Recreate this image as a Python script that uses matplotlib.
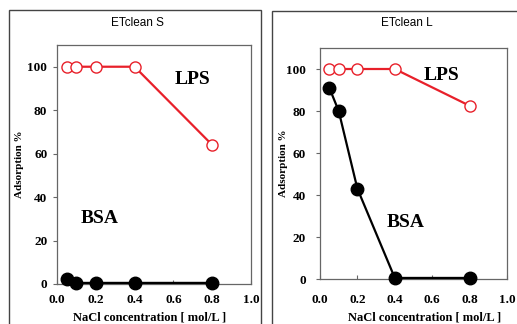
import matplotlib
matplotlib.use("Agg")
import matplotlib.pyplot as plt
from matplotlib.patches import Rectangle

# NaCl concentration (mol/L)
nacl = [0.05, 0.1, 0.2, 0.4, 0.8]

# adsorption %
lps_s = [100, 100, 100, 100, 64]
bsa_s = [2.5, 0.5, 0.5, 0.5, 0.5]
lps_l = [100, 100, 100, 100, 82.5]
bsa_l = [91, 80, 43, 0.5, 0.5]

panel_titles = ["ETclean S", "ETclean L"]
x_ticks = [0.0, 0.2, 0.4, 0.6, 0.8, 1.0]
y_ticks = [0, 20, 40, 60, 80, 100]

W, H = 517, 324
serif = "Liberation Serif"
col_lps = "#e8202a"


def px_rect(l, t, r, b):
	return (l / W, (H - b) / H, (r - l) / W, (b - t) / H)


fig = plt.figure(figsize=(W / 100, H / 100), dpi=100)
fig.patch.set_facecolor("white")

# outer boxes round each panel
for l, t, r, b in [(9, 10, 261, 340), (272, 11, 530, 340)]:
	fig.add_artist(Rectangle((l / W, (H - b) / H), (r - l) / W, (b - t) / H,
		transform=fig.transFigure, fill=False, ec="#444444", lw=1.0, clip_on=False))

panels = [
	{"rect": px_rect(57, 45, 251, 284), "lps": lps_s, "bsa": bsa_s,
	 "title_xy": (137, 23), "ylab_x": 19, "xlab_xy": (150, 323),
	 "xpad": 7, "ypad": 4,
	 "lps_txt": (0.70, 94), "bsa_txt": (0.22, 30)},
	{"rect": px_rect(320, 48, 507, 279), "lps": lps_l, "bsa": bsa_l,
	 "title_xy": (407, 23), "ylab_x": 284, "xlab_xy": (425, 323),
	 "xpad": 11, "ypad": 7,
	 "lps_txt": (0.65, 97), "bsa_txt": (0.46, 27)},
]

for p, title in zip(panels, panel_titles):
	ax = fig.add_axes(p["rect"])
	ax.set_xlim(0, 1.0)
	ax.set_ylim(0, 110)
	ax.plot(nacl, p["lps"], color=col_lps, lw=1.6, marker="o", ms=8,
		mfc="white", mec=col_lps, mew=1.0, zorder=3, clip_on=False)
	ax.plot(nacl, p["bsa"], color="black", lw=1.6, marker="o", ms=9,
		mfc="black", mec="black", zorder=4, clip_on=False)

	ax.set_xticks(x_ticks)
	ax.set_xticklabels(["%.1f" % v for v in x_ticks])
	ax.set_yticks(y_ticks)
	for s in ax.spines.values():
		s.set_color("#666666")
		s.set_linewidth(0.9)
	ax.tick_params(axis="x", direction="in", length=3, pad=p["xpad"], color="#666666")
	ax.tick_params(axis="y", direction="out", length=3, pad=p["ypad"], color="#666666")
	for lab in ax.get_xticklabels() + ax.get_yticklabels():
		lab.set_fontfamily(serif)
		lab.set_fontweight("bold")
		lab.set_fontsize(9.5)

	ax.text(*p["lps_txt"], "LPS", fontfamily=serif, fontweight="bold",
		fontsize=14, ha="center", va="center")
	ax.text(*p["bsa_txt"], "BSA", fontfamily=serif, fontweight="bold",
		fontsize=14, ha="center", va="center")

	tx, ty = p["title_xy"]
	fig.text(tx / W, (H - ty) / H, title, fontfamily="Liberation Sans",
		fontsize=8.5, ha="center", va="center")
	fig.text(p["ylab_x"] / W, (p["rect"][1] + p["rect"][3] / 2), "Adsorption %",
		fontfamily=serif, fontweight="bold", fontsize=8, rotation=90,
		ha="center", va="center")
	lx, ly = p["xlab_xy"]
	fig.text(lx / W, (H - ly) / H, "NaCl concentration [ mol/L ]",
		fontfamily=serif, fontweight="bold", fontsize=9, ha="center", va="bottom")

fig.savefig("out.png", dpi=100)
